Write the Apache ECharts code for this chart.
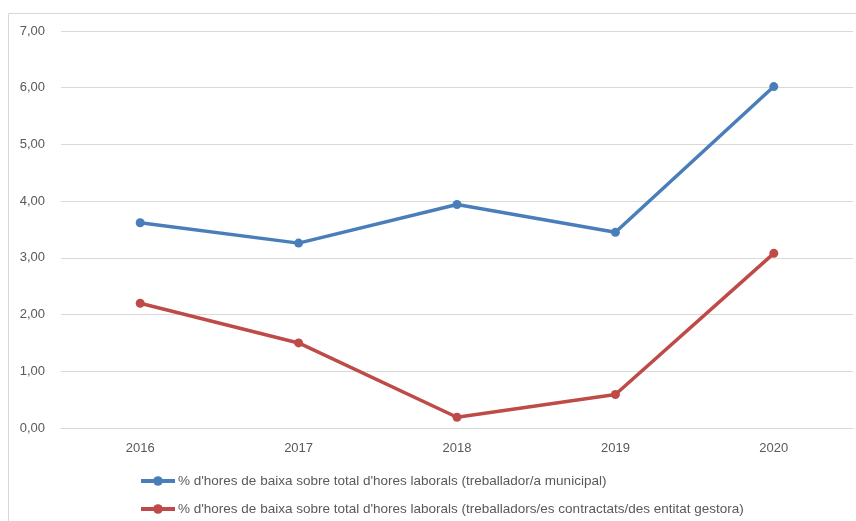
<!DOCTYPE html>
<html>
<head>
<meta charset="utf-8">
<script src="https://cdn.jsdelivr.net/npm/echarts@6/dist/echarts.min.js"></script>
<style>
  html, body { margin: 0; padding: 0; background: #fff; }
  #chart { width: 856px; height: 521px; }
</style>
</head>
<body>
<div id="chart"></div>
<script>
// dades llegides del gràfic
const years = ['2016', '2017', '2018', '2019', '2020']
const municipal = [3.62, 3.26, 3.94, 3.45, 6.02]
const gestora = [2.20, 1.50, 0.19, 0.59, 3.08]
const seriesNames = [
  "% d'hores de baixa sobre total d'hores laborals (treballador/a municipal)",
  "% d'hores de baixa sobre total d'hores laborals (treballadors/es contractats/des entitat gestora)"
]

const font = '"Liberation Sans", sans-serif'
const textColor = '#595959'

const chart = echarts.init(document.getElementById('chart'))

// una llegenda per fila, com a l'original
const legendRow = (name, top) => ({
  orient: 'horizontal',
  left: 139,
  top: top,
  padding: 0,
  itemWidth: 34,
  itemHeight: 12,
  lineStyle: { width: 4 },
  textStyle: { fontFamily: font, fontSize: 13.5, color: textColor, padding: [0, 0, 0, -2] },
  data: [name]
})

const option = {
  animation: false,
  color: ['#4A7EBB', '#BE4B48'],
  graphic: [
    {
      type: 'polyline',
      shape: { points: [[8.5, 530], [8.5, 13.5], [870, 13.5]] },
      style: { stroke: '#d9d9d9', lineWidth: 1, fill: null }
    }
  ],
  grid: { left: 61, right: 3, top: 31, bottom: 93 },
  legend: [
    legendRow(seriesNames[0], 474),
    legendRow(seriesNames[1], 502)
  ],
  xAxis: {
    type: 'category',
    data: years,
    axisLine: { lineStyle: { color: '#d9d9d9' } },
    axisTick: { show: false },
    axisLabel: { fontFamily: font, fontSize: 13, color: textColor, margin: 14 }
  },
  yAxis: {
    type: 'value',
    min: 0,
    max: 7,
    interval: 1,
    axisLine: { show: false },
    axisTick: { show: false },
    splitLine: { lineStyle: { color: '#d9d9d9', width: 1 } },
    axisLabel: {
      fontFamily: font, fontSize: 13, color: textColor, margin: 16,
      formatter: v => v.toFixed(2).replace('.', ',')
    }
  },
  series: [
    {
      name: seriesNames[0],
      type: 'line',
      data: municipal,
      symbol: 'circle',
      symbolSize: 9,
      lineStyle: { width: 3.5 }
    },
    {
      name: seriesNames[1],
      type: 'line',
      data: gestora,
      symbol: 'circle',
      symbolSize: 9,
      lineStyle: { width: 3.5 }
    }
  ]
}

chart.setOption(option)
</script>
</body>
</html>
